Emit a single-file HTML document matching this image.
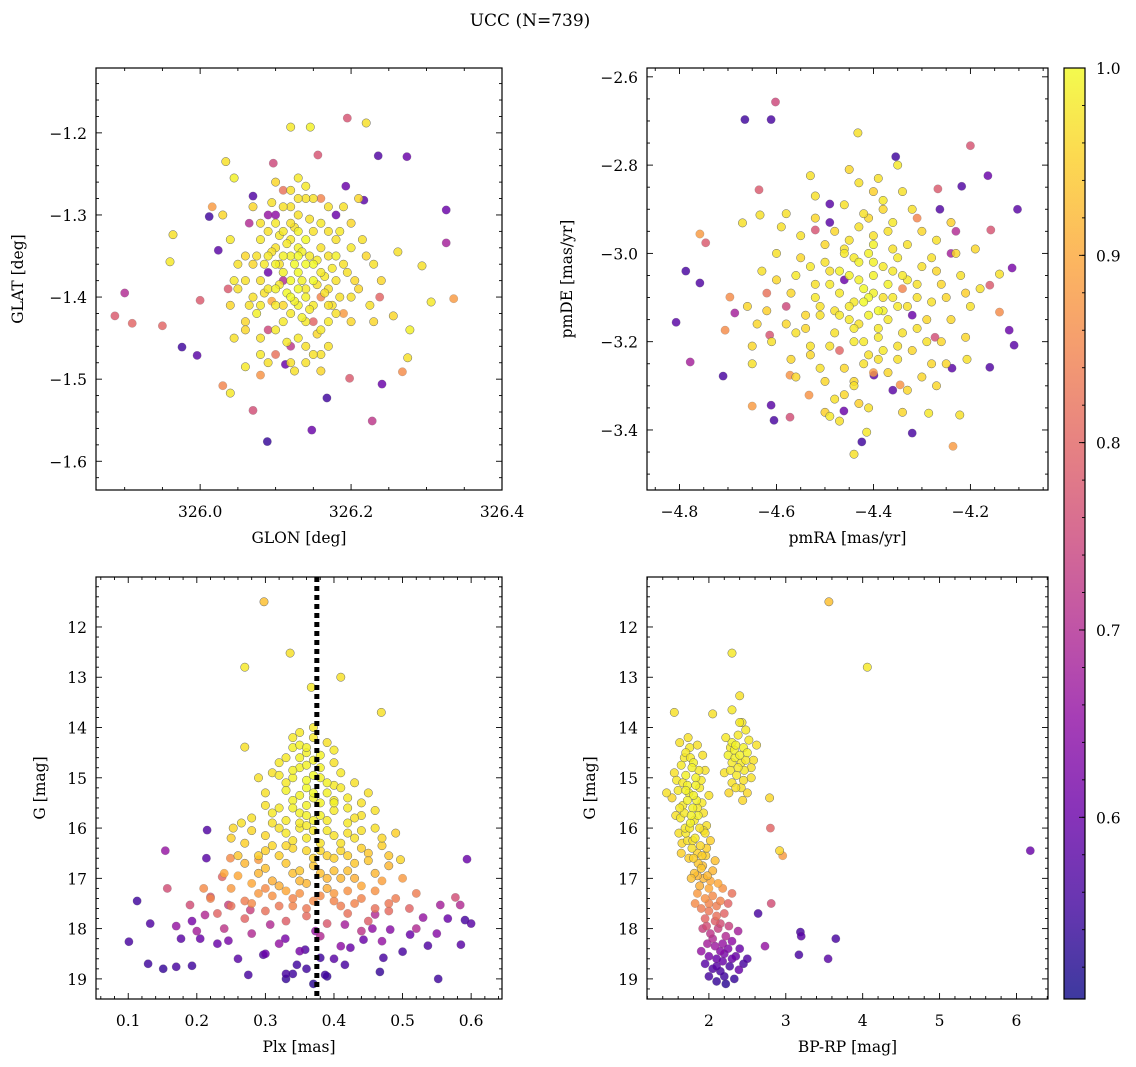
<!DOCTYPE html>
<html><head><meta charset="utf-8"><style>
html,body{margin:0;padding:0;background:#fff;}
svg{display:block;font-family:"DejaVu Serif","Liberation Serif",serif;}
</style></head><body>
<svg id="fig" width="1136" height="1067" viewBox="0 0 1136 1067" xmlns="http://www.w3.org/2000/svg">
<text x="530" y="26" font-size="17" text-anchor="middle">UCC (N=739)</text>
</svg>
<script>
// ---- data: [x, y, membership probability] ----
const galacticPoints = [
[325.887,-1.423,0.78],[325.90,-1.395,0.7],[325.91,-1.432,0.8],[325.95,-1.435,0.8],[325.96,-1.357,0.98],[325.976,-1.461,0.55],[325.964,-1.324,0.97],[325.996,-1.471,0.58],[326.0,-1.404,0.78],[326.012,-1.302,0.55],[326.016,-1.29,0.88],[326.034,-1.235,0.97],[326.045,-1.255,0.99],[326.03,-1.508,0.85],[326.04,-1.517,0.98],[326.07,-1.538,0.76],[326.089,-1.576,0.54],[326.12,-1.193,0.98],[326.146,-1.193,0.99],[326.156,-1.227,0.77],[326.195,-1.182,0.77],[326.22,-1.188,0.97],[326.236,-1.228,0.57],[326.274,-1.229,0.6],[326.148,-1.562,0.6],[326.168,-1.523,0.55],[326.198,-1.499,0.78],[326.228,-1.551,0.72],[326.241,-1.506,0.6],[326.268,-1.491,0.86],[326.275,-1.474,0.97],[326.326,-1.294,0.6],[326.336,-1.402,0.88],[326.326,-1.334,0.68],[326.306,-1.406,0.98],[326.294,-1.362,0.97],[326.278,-1.44,0.99],[326.256,-1.423,0.96],[326.238,-1.40,0.8],[326.217,-1.282,0.58],[326.193,-1.265,0.6],[326.262,-1.345,0.97],[326.045,-1.45,0.97],[326.06,-1.485,0.98],[326.08,-1.495,0.87],[326.113,-1.482,0.6],[326.024,-1.343,0.58],[326.037,-1.39,0.78],[326.07,-1.277,0.57],[326.097,-1.237,0.75],
[326.13,-1.37,1],[326.12,-1.35,0.99],[326.14,-1.39,0.98],[326.11,-1.38,0.7],[326.15,-1.36,1],[326.10,-1.34,0.97],[326.16,-1.40,0.85],[326.13,-1.32,0.99],[326.12,-1.42,0.98],[326.09,-1.37,0.6],[326.17,-1.35,0.97],[326.14,-1.33,1],[326.11,-1.41,0.96],[326.15,-1.43,0.8],[326.08,-1.33,0.98],[326.18,-1.38,0.97],[326.10,-1.30,0.65],[326.16,-1.31,0.98],[326.07,-1.40,0.97],[326.19,-1.42,0.88],[326.13,-1.45,0.98],[326.12,-1.29,0.97],[326.09,-1.44,0.75],[326.17,-1.46,0.97],[326.06,-1.35,0.96],[326.20,-1.34,0.98],[326.14,-1.48,0.97],[326.11,-1.27,0.82],[326.15,-1.28,0.97],[326.08,-1.47,0.98],[326.18,-1.30,0.6],[326.05,-1.39,0.97],[326.21,-1.39,0.96],[326.125,-1.36,1],[326.135,-1.38,0.99],[326.145,-1.35,0.98],[326.105,-1.36,0.97],[326.115,-1.395,1],[326.155,-1.385,0.97],[326.095,-1.405,0.9],[326.165,-1.375,0.98],[326.125,-1.315,0.97],[326.135,-1.425,0.99],[326.105,-1.325,0.98],[326.145,-1.305,0.97],[326.085,-1.36,0.98],[326.175,-1.41,0.97],[326.115,-1.455,0.98],[326.155,-1.445,0.96],[326.095,-1.285,0.97],[326.185,-1.32,0.98],[326.075,-1.42,0.99],[326.195,-1.37,0.97],[326.065,-1.31,0.7],[326.125,-1.49,0.97],[326.14,-1.265,0.98],[326.215,-1.33,0.97],[326.045,-1.38,0.98],[326.225,-1.41,0.97],[326.10,-1.47,0.82],[326.16,-1.47,0.97],[326.07,-1.29,0.96],[326.19,-1.29,0.97],[326.13,-1.255,0.98],[326.12,-1.40,1],[326.14,-1.36,1],[326.11,-1.35,0.99],[326.15,-1.41,0.98],[326.13,-1.34,0.99],[326.16,-1.37,0.98],[326.10,-1.39,0.99],[326.12,-1.31,0.97],[326.17,-1.43,0.98],[326.09,-1.32,0.97],[326.18,-1.35,0.99],[326.08,-1.41,0.98],[326.20,-1.40,0.97],[326.06,-1.43,0.96],[326.23,-1.36,0.97],[326.04,-1.33,0.98]
];
const galacticCore = [
[326.10,-1.36,0.99],[326.12,-1.33,0.98],[326.14,-1.40,0.99],[326.16,-1.34,0.97],[326.11,-1.43,0.98],[326.13,-1.30,0.97],[326.15,-1.38,1],[326.09,-1.35,0.98],[326.17,-1.39,0.97],[326.12,-1.46,0.72],[326.14,-1.28,0.97],[326.10,-1.41,0.98],[326.18,-1.33,0.97],[326.08,-1.38,0.97],[326.16,-1.44,0.98],[326.13,-1.35,1],[326.11,-1.32,0.98],[326.15,-1.32,0.97],[326.12,-1.38,1],[326.14,-1.43,0.98],[326.09,-1.30,0.66],[326.17,-1.41,0.97],[326.10,-1.44,0.98],[326.19,-1.36,0.97],[326.07,-1.36,0.96],[326.13,-1.41,0.99],[326.15,-1.47,0.97],[326.11,-1.29,0.97],[326.16,-1.28,0.85],[326.08,-1.45,0.97],[326.20,-1.43,0.96],[326.06,-1.38,0.97],[326.12,-1.27,0.97],[326.14,-1.46,0.97],[326.10,-1.31,0.98],[326.18,-1.42,0.97],[326.09,-1.39,0.98],[326.17,-1.32,0.97],[326.13,-1.39,1],[326.11,-1.37,0.99],[326.155,-1.355,0.98],[326.105,-1.385,0.98],[326.135,-1.345,0.99],[326.125,-1.405,0.99],[326.145,-1.415,0.98],[326.115,-1.335,0.98],[326.165,-1.395,0.97],[326.095,-1.345,0.97],[326.175,-1.365,0.98],[326.085,-1.395,0.97],[326.185,-1.40,0.97],[326.075,-1.35,0.97],[326.205,-1.38,0.96],[326.065,-1.41,0.97],[326.22,-1.35,0.96],[326.05,-1.36,0.97],[326.12,-1.48,0.97],[326.16,-1.49,0.96],[326.09,-1.48,0.97],[326.13,-1.28,0.97],[326.17,-1.29,0.97],[326.08,-1.31,0.97],[326.20,-1.31,0.96],[326.06,-1.44,0.96],[326.23,-1.43,0.96],[326.04,-1.41,0.96],[326.24,-1.38,0.96],[326.03,-1.30,0.96],[326.21,-1.28,0.96],[326.10,-1.26,0.96]
];
const propermotionPoints = [
[-4.602,-2.657,0.75],[-4.665,-2.697,0.55],[-4.611,-2.697,0.56],[-4.432,-2.727,0.97],[-4.354,-2.781,0.55],[-4.35,-2.80,0.98],[-4.2,-2.756,0.77],[-4.164,-2.824,0.6],[-4.636,-2.856,0.78],[-4.53,-2.824,0.97],[-4.758,-2.956,0.88],[-4.746,-2.976,0.78],[-4.787,-3.04,0.56],[-4.758,-3.067,0.57],[-4.807,-3.156,0.58],[-4.778,-3.246,0.68],[-4.71,-3.278,0.56],[-4.65,-3.25,0.97],[-4.706,-3.174,0.86],[-4.65,-3.346,0.88],[-4.611,-3.344,0.58],[-4.605,-3.378,0.56],[-4.572,-3.371,0.76],[-4.533,-3.321,0.87],[-4.49,-3.369,0.98],[-4.461,-3.357,0.6],[-4.424,-3.427,0.55],[-4.44,-3.455,0.97],[-4.414,-3.405,0.98],[-4.32,-3.407,0.56],[-4.286,-3.362,0.98],[-4.236,-3.437,0.88],[-4.222,-3.366,0.97],[-4.16,-3.258,0.57],[-4.11,-3.208,0.58],[-4.12,-3.174,0.6],[-4.103,-2.9,0.58],[-4.114,-3.033,0.62],[-4.14,-3.133,0.86],[-4.16,-3.072,0.78],[-4.14,-3.047,0.97],[-4.158,-2.947,0.77],[-4.24,-3.0,0.68],[-4.218,-2.848,0.57],[-4.267,-2.854,0.78],[-4.238,-3.26,0.58],[-4.207,-3.24,0.97],[-4.273,-3.19,0.76],[-4.263,-2.9,0.57],[-4.52,-2.947,0.77],[-4.49,-2.888,0.58],[-4.634,-2.913,0.97],[-4.686,-3.135,0.68],[-4.696,-3.099,0.86],[-4.67,-2.931,0.97],[-4.614,-3.185,0.77],[-4.572,-3.276,0.87],[-4.399,-3.276,0.58],[-4.345,-3.298,0.87],
[-4.42,-3.08,1],[-4.40,-3.05,0.99],[-4.44,-3.11,0.98],[-4.38,-3.10,0.97],[-4.46,-3.06,0.6],[-4.36,-3.04,0.98],[-4.48,-3.13,0.97],[-4.41,-3.00,0.99],[-4.43,-3.16,0.97],[-4.34,-3.08,0.85],[-4.50,-3.02,0.97],[-4.39,-3.19,0.98],[-4.45,-2.97,0.97],[-4.32,-3.14,0.6],[-4.52,-3.10,0.98],[-4.37,-2.95,0.97],[-4.47,-3.22,0.8],[-4.30,-3.03,0.97],[-4.54,-3.17,0.96],[-4.35,-3.24,0.97],[-4.49,-2.93,0.58],[-4.28,-3.11,0.97],[-4.56,-3.05,0.98],[-4.42,-2.91,0.97],[-4.40,-3.27,0.88],[-4.33,-2.98,0.97],[-4.51,-3.26,0.97],[-4.26,-3.07,0.96],[-4.58,-3.12,0.75],[-4.44,-3.30,0.97],[-4.38,-2.88,0.98],[-4.29,-3.20,0.97],[-4.55,-2.96,0.97],[-4.31,-2.92,0.85],[-4.53,-3.21,0.97],[-4.24,-3.15,0.96],[-4.60,-3.00,0.97],[-4.46,-2.89,0.97],[-4.36,-3.31,0.58],[-4.27,-2.97,0.97],[-4.57,-3.24,0.96],[-4.22,-3.05,0.97],[-4.62,-3.09,0.82],[-4.48,-3.33,0.97],[-4.34,-2.86,0.97],[-4.25,-3.25,0.96],[-4.59,-2.94,0.97],[-4.20,-3.12,0.97],[-4.64,-3.16,0.96],[-4.43,-2.84,0.97],[-4.41,-3.35,0.97],[-4.30,-3.28,0.96],[-4.52,-2.87,0.97],[-4.23,-2.95,0.7],[-4.61,-3.20,0.97],[-4.47,-3.04,0.99],[-4.39,-3.13,1],[-4.43,-3.02,0.99],[-4.37,-3.07,0.99],[-4.45,-3.15,0.98],[-4.41,-3.10,1],[-4.35,-3.12,0.98],[-4.49,-3.07,0.98],[-4.40,-2.98,0.99],[-4.44,-3.20,0.98],[-4.33,-3.06,0.98],[-4.51,-3.14,0.97],[-4.38,-3.22,0.98],[-4.46,-3.00,0.98],[-4.31,-3.17,0.97],[-4.53,-3.03,0.98],[-4.42,-3.25,0.97],[-4.36,-2.93,0.98],[-4.28,-3.01,0.97],[-4.56,-3.18,0.97],[-4.21,-3.19,0.96],[-4.63,-3.04,0.97],[-4.50,-3.29,0.96],[-4.32,-2.90,0.97],[-4.45,-2.81,0.96],[-4.18,-3.08,0.97],[-4.66,-3.12,0.96],[-4.39,-2.83,0.97],[-4.27,-3.30,0.96],[-4.58,-2.91,0.97],[-4.19,-2.99,0.96],[-4.65,-3.21,0.96],[-4.47,-3.38,0.97],[-4.34,-3.36,0.96]
];
const propermotionCore = [
[-4.40,-3.09,0.99],[-4.43,-3.06,0.99],[-4.45,-3.12,0.98],[-4.38,-3.03,0.98],[-4.41,-3.14,0.99],[-4.47,-3.09,0.98],[-4.36,-3.10,0.98],[-4.44,-3.01,0.98],[-4.39,-3.17,0.98],[-4.49,-3.04,0.97],[-4.34,-3.05,0.98],[-4.42,-3.20,0.98],[-4.46,-2.99,0.97],[-4.37,-3.15,0.98],[-4.51,-3.12,0.97],[-4.33,-3.12,0.97],[-4.40,-2.96,0.97],[-4.48,-3.18,0.97],[-4.35,-3.21,0.97],[-4.52,-3.07,0.97],[-4.31,-3.07,0.97],[-4.43,-2.94,0.97],[-4.39,-3.24,0.97],[-4.54,-3.14,0.96],[-4.29,-3.15,0.96],[-4.46,-3.26,0.96],[-4.36,-2.99,0.97],[-4.50,-2.98,0.96],[-4.32,-3.22,0.96],[-4.55,-3.01,0.96],[-4.27,-3.04,0.96],[-4.44,-3.29,0.96],[-4.41,-2.92,0.96],[-4.57,-3.09,0.96],[-4.25,-3.10,0.96],[-4.48,-2.95,0.96],[-4.30,-2.95,0.96],[-4.53,-3.23,0.96],[-4.37,-3.27,0.96],[-4.45,-3.05,0.99],[-4.38,-3.13,0.99],[-4.42,-3.11,1],[-4.40,-3.02,0.99],[-4.44,-3.17,0.98],[-4.34,-3.18,0.97],[-4.47,-3.14,0.98],[-4.35,-3.01,0.98],[-4.49,-3.21,0.97],[-4.41,-3.23,0.97],[-4.31,-3.10,0.97],[-4.58,-3.16,0.96],[-4.26,-3.20,0.96],[-4.60,-3.06,0.96],[-4.23,-3.00,0.96],[-4.46,-3.32,0.96],[-4.38,-2.90,0.96],[-4.52,-2.92,0.96],[-4.28,-3.25,0.96],[-4.56,-3.28,0.96],[-4.33,-3.31,0.96],[-4.62,-3.13,0.95],[-4.21,-3.09,0.95],[-4.50,-3.36,0.95],[-4.40,-2.86,0.95],[-4.43,-3.34,0.95],[-4.24,-2.93,0.95]
];
const parallaxPoints = [
[0.298,11.5,0.93],[0.27,12.8,0.98],[0.336,12.52,0.97],[0.367,13.2,0.98],[0.41,13.0,0.97],[0.469,13.7,0.97],
[0.101,18.26,0.56],[0.113,17.45,0.55],[0.132,17.9,0.57],[0.129,18.7,0.55],[0.151,18.8,0.54],[0.17,18.76,0.56],[0.193,18.74,0.55],[0.154,16.45,0.66],[0.177,18.2,0.58],[0.193,17.85,0.62],[0.157,17.2,0.76],[0.214,16.6,0.58],[0.215,16.04,0.57],[0.22,17.37,0.78],[0.237,16.97,0.8],[0.249,16.6,0.86],[0.253,16.0,0.96],[0.265,15.9,0.97],[0.27,14.39,0.97],[0.29,16.63,0.88],[0.497,16.63,0.96],[0.577,17.38,0.76],[0.594,16.62,0.6],[0.591,17.83,0.56],[0.585,18.32,0.58],[0.552,19.0,0.55],[0.566,17.8,0.6],[0.537,18.34,0.57],[0.5,18.46,0.56],[0.472,18.58,0.56],[0.467,18.86,0.54],[0.443,18.22,0.6],[0.416,18.72,0.56],[0.38,18.58,0.55],[0.346,18.72,0.55],[0.33,18.9,0.56],[0.297,18.52,0.57],[0.275,18.92,0.56],[0.26,18.6,0.58],[0.246,18.24,0.62],[0.23,18.3,0.6],[0.205,18.2,0.6],[0.329,18.2,0.62],[0.358,18.42,0.57],[0.387,18.92,0.55],[0.424,18.38,0.6],[0.456,18.0,0.65],[0.482,18.02,0.64],[0.511,18.12,0.6],[0.53,17.78,0.66],[0.555,17.53,0.68],[0.584,17.53,0.7],[0.6,17.9,0.58],[0.46,17.72,0.7],[0.416,17.92,0.68],[0.373,18.05,0.66],[0.307,17.92,0.7],[0.278,17.63,0.74],[0.246,17.53,0.74],[0.212,17.73,0.7],[0.19,17.53,0.76],
[0.35,14.1,0.98],[0.37,14.2,0.98],[0.34,14.4,0.99],[0.39,14.3,0.97],[0.36,14.5,0.99],[0.33,14.6,0.98],[0.38,14.55,0.99],[0.40,14.7,0.97],[0.31,14.9,0.97],[0.35,14.8,0.99],[0.37,14.95,1],[0.41,14.9,0.98],[0.43,15.1,0.97],[0.33,15.1,0.98],[0.30,15.3,0.97],[0.36,15.2,1],[0.39,15.3,0.99],[0.34,15.45,0.99],[0.42,15.4,0.98],[0.45,15.3,0.97],[0.29,15.0,0.97],[0.38,15.0,0.99],[0.32,15.6,0.98],[0.28,15.8,0.97],[0.31,15.9,0.97],[0.35,15.7,0.99],[0.37,15.85,0.99],[0.40,15.65,0.98],[0.42,15.9,0.98],[0.44,15.75,0.97],[0.46,16.0,0.97],[0.33,16.1,0.98],[0.36,16.2,0.98],[0.39,16.05,0.98],[0.41,16.3,0.97],[0.43,16.2,0.97],[0.47,16.35,0.95],[0.27,16.3,0.95],[0.30,16.15,0.96],[0.34,16.4,0.96],[0.38,16.45,0.96],[0.45,16.5,0.94],[0.32,16.55,0.95],[0.25,16.2,0.95],[0.49,16.1,0.95],[0.40,15.5,0.99],[0.36,15.55,0.99],[0.27,16.7,0.92],[0.30,16.8,0.93],[0.34,16.9,0.93],[0.37,16.75,0.94],[0.40,16.85,0.93],[0.43,16.7,0.94],[0.46,16.9,0.92],[0.31,17.05,0.91],[0.36,17.1,0.92],[0.41,17.0,0.92],[0.44,17.15,0.9],[0.28,17.1,0.9],[0.39,17.2,0.91],[0.33,17.25,0.9],[0.48,16.75,0.92],[0.24,16.9,0.9],[0.35,14.35,0.99],[0.36,14.75,0.99],[0.34,15.0,0.99],[0.37,15.4,0.99],[0.38,15.75,0.99],[0.35,16.0,0.98],[0.37,16.6,0.95],[0.32,14.7,0.98],[0.40,15.15,0.98],[0.39,16.55,0.95],[0.31,16.35,0.96],[0.42,16.55,0.95],[0.35,16.85,0.94],[0.33,15.85,0.98],[0.44,16.05,0.97],[0.29,16.55,0.95],
[0.22,17.4,0.85],[0.25,17.2,0.88],[0.28,17.5,0.86],[0.31,17.35,0.87],[0.34,17.55,0.85],[0.37,17.45,0.86],[0.40,17.3,0.88],[0.43,17.5,0.85],[0.46,17.25,0.87],[0.49,17.4,0.84],[0.51,17.6,0.8],[0.23,17.7,0.8],[0.27,17.8,0.8],[0.30,17.65,0.82],[0.33,17.85,0.79],[0.36,17.75,0.81],[0.39,17.9,0.78],[0.42,17.7,0.82],[0.45,17.85,0.79],[0.48,17.65,0.81],[0.26,16.95,0.9],[0.47,17.05,0.89],[0.50,17.0,0.88],[0.21,17.2,0.86],[0.52,17.3,0.84],[0.29,17.3,0.88],[0.41,17.55,0.84],[0.35,17.3,0.87],
[0.24,18.0,0.72],[0.28,18.1,0.7],[0.32,18.3,0.66],[0.38,18.15,0.7],[0.41,18.35,0.65],[0.44,18.05,0.72],[0.47,18.25,0.66],[0.20,18.05,0.68],[0.52,18.0,0.7],[0.35,18.45,0.62],[0.30,18.5,0.6],[0.40,18.6,0.58],[0.36,18.8,0.55],[0.33,19.0,0.54],[0.37,19.1,0.53],[0.34,18.9,0.55],[0.39,18.95,0.54],[0.55,18.1,0.64],[0.17,17.95,0.66]
];
const parallaxCore = [
[0.36,14.4,0.99],[0.35,14.6,0.99],[0.37,14.65,0.99],[0.34,14.85,0.99],[0.38,14.8,0.99],[0.36,15.05,1],[0.39,15.1,0.99],[0.33,15.25,0.99],[0.37,15.3,1],[0.41,15.2,0.98],[0.35,15.35,0.99],[0.38,15.5,0.99],[0.34,15.6,0.99],[0.40,15.45,0.98],[0.42,15.6,0.98],[0.36,15.75,0.99],[0.31,15.7,0.98],[0.39,15.85,0.98],[0.43,15.8,0.97],[0.35,15.9,0.98],[0.32,16.0,0.97],[0.37,16.05,0.98],[0.40,16.15,0.97],[0.34,16.25,0.97],[0.42,16.1,0.97],[0.38,16.3,0.97],[0.44,16.4,0.95],[0.30,16.45,0.95],[0.36,16.45,0.96],[0.40,16.6,0.95],[0.33,16.7,0.94],[0.38,16.9,0.93],[0.42,16.85,0.93],[0.29,16.9,0.92],[0.45,16.65,0.94],[0.35,17.05,0.92],[0.39,17.0,0.92],[0.32,17.15,0.91],[0.43,17.0,0.91],[0.37,14.0,0.98],[0.34,14.2,0.98],[0.40,14.45,0.98],[0.32,14.95,0.98],[0.44,15.5,0.97],[0.30,15.55,0.97],[0.46,15.65,0.97],[0.28,16.05,0.96],[0.47,16.2,0.96],[0.26,16.55,0.94],[0.48,16.55,0.94],[0.36,15.95,0.98],[0.41,16.45,0.96],[0.33,16.35,0.96],
[0.30,17.2,0.86],[0.34,17.4,0.85],[0.38,17.35,0.86],[0.42,17.25,0.87],[0.44,17.4,0.85],[0.27,17.45,0.84],[0.32,17.55,0.83],[0.36,17.6,0.83],[0.40,17.45,0.85],[0.48,17.5,0.83],[0.25,17.55,0.82],[0.46,17.6,0.82]
];
const colorMagPoints = [
[3.56,11.5,0.93],[4.06,12.8,0.98],[2.3,12.52,0.98],[2.4,13.37,0.97],[2.3,13.65,0.98],[2.05,13.73,0.97],[1.55,13.7,0.97],[2.43,13.9,0.98],[6.18,16.45,0.6],[2.79,15.4,0.96],[2.8,16.0,0.8],[2.92,16.45,0.96],[2.96,16.55,0.88],[2.81,17.5,0.76],[2.64,17.7,0.56],[3.19,18.07,0.56],[3.2,18.15,0.58],[3.17,18.52,0.56],[3.55,18.6,0.58],[3.65,18.2,0.56],[2.73,18.35,0.66],[2.39,18.82,0.6],
[1.62,14.3,0.97],[1.75,14.4,0.98],[1.85,14.35,0.97],[1.68,14.6,0.98],[1.80,14.7,0.99],[1.92,14.55,0.97],[1.55,14.9,0.97],[1.70,14.95,0.99],[1.83,15.0,0.99],[1.95,14.85,0.97],[1.60,15.25,0.98],[1.74,15.3,0.99],[1.88,15.2,0.98],[2.0,15.35,0.97],[1.52,15.4,0.96],[1.66,15.55,0.98],[1.79,15.6,0.99],[1.91,15.5,0.98],[1.63,15.8,0.98],[1.76,15.9,0.99],[1.86,15.75,0.99],[1.97,15.95,0.97],[1.70,16.1,0.98],[1.82,16.2,0.98],[1.93,16.05,0.97],[1.65,16.3,0.96],[1.78,16.4,0.97],[1.89,16.35,0.96],[2.02,16.25,0.95],[1.74,16.6,0.95],[1.86,16.7,0.94],[1.96,16.55,0.95],[2.08,16.65,0.93],[1.81,16.9,0.93],[1.93,17.0,0.92],[2.05,16.85,0.92],[1.88,17.15,0.91],[2.0,17.2,0.9],[2.12,17.1,0.9],[1.45,15.3,0.97],[1.72,15.15,0.99],[1.84,15.45,0.99],[1.69,16.0,0.98],[1.90,16.8,0.94],[1.77,17.0,0.93],[1.58,15.05,0.98],[1.95,16.1,0.97],[1.73,14.2,0.97],[1.87,14.85,0.98],[1.64,16.5,0.95],
[1.85,17.3,0.88],[1.95,17.4,0.87],[2.05,17.35,0.86],[2.15,17.45,0.85],[1.90,17.6,0.84],[2.00,17.65,0.83],[2.10,17.55,0.84],[2.20,17.7,0.8],[1.95,17.8,0.8],[2.08,17.85,0.79],[2.25,17.5,0.8],[1.82,17.5,0.86],[2.3,17.3,0.82],[2.18,17.2,0.87],
[1.92,18.0,0.74],[2.02,18.1,0.72],[2.12,18.0,0.74],[2.22,18.15,0.7],[1.98,18.3,0.68],[2.08,18.35,0.67],[2.18,18.3,0.66],[2.3,18.25,0.65],[2.0,18.55,0.62],[2.1,18.6,0.6],[2.2,18.5,0.62],[2.35,18.55,0.6],[2.05,18.8,0.57],[2.15,18.85,0.56],[2.27,18.75,0.56],[2.1,19.05,0.54],[2.22,19.1,0.53],[1.95,18.7,0.58],[2.4,18.4,0.6],[2.45,18.7,0.56],[2.33,19.0,0.54],[1.9,18.45,0.66],[2.26,17.95,0.74],[2.38,18.05,0.68],[2.5,18.6,0.57],
[2.22,14.2,0.98],[2.3,14.3,0.99],[2.38,14.15,0.98],[2.45,14.4,0.99],[2.52,14.25,0.98],[2.25,14.55,0.99],[2.34,14.6,0.99],[2.42,14.7,0.98],[2.5,14.5,0.99],[2.58,14.65,0.97],[2.28,14.85,0.98],[2.36,14.95,0.98],[2.46,14.85,0.98],[2.55,15.0,0.97],[2.3,15.1,0.97],[2.42,15.2,0.97],[2.5,15.3,0.96],[2.2,14.9,0.97],[2.4,13.9,0.98],[2.48,14.05,0.98],[2.62,14.35,0.97],[2.33,14.45,0.99],[2.44,15.45,0.96],[2.26,15.3,0.96]
];
const colorMagCore = [
[1.70,14.5,0.98],[1.78,14.8,0.99],[1.66,15.1,0.98],[1.80,15.35,0.99],[1.72,15.45,0.99],[1.85,15.6,0.98],[1.68,15.7,0.98],[1.81,15.85,0.98],[1.75,16.0,0.98],[1.88,16.0,0.97],[1.72,16.25,0.97],[1.85,16.5,0.95],[1.80,16.6,0.95],[1.92,16.75,0.93],[1.85,16.95,0.92],[1.98,16.95,0.92],[1.62,15.6,0.98],[1.57,15.75,0.97],[1.93,15.7,0.97],[1.76,14.6,0.98],[1.64,14.75,0.98],[1.90,15.05,0.98],[1.79,16.25,0.97],[1.97,16.4,0.95],[2.02,17.05,0.9],[1.70,15.25,0.99],[1.83,15.15,0.99],[1.77,15.75,0.99],[1.61,16.1,0.97],[1.91,16.55,0.95],
[2.35,14.35,0.99],[2.4,14.55,0.99],[2.3,14.7,0.98],[2.48,14.65,0.98],[2.38,14.8,0.98],[2.45,15.05,0.97],[2.35,15.2,0.97],[2.28,14.4,0.98],[2.55,14.8,0.97],
[2.0,17.5,0.85],[2.1,17.75,0.82],[1.97,17.95,0.76],[2.15,17.9,0.76],[2.05,18.2,0.7],[2.15,18.45,0.64],[2.25,18.4,0.63],[2.1,18.75,0.58],[2.2,18.95,0.55],[2.0,18.95,0.56],[2.3,18.6,0.6],[2.18,18.65,0.6]
];
const plxMedian = [0.375];
const probRange = [0.503, 1.0];
const colorbarTicks = [0.6, 0.7, 0.8, 0.9, 1.0];

// ---- helpers ----
const NS = "http://www.w3.org/2000/svg";
const svg = document.getElementById('fig');
function mk(tag, attrs, parent){ const e=document.createElementNS(NS,tag); for(const k in attrs) e.setAttribute(k,attrs[k]); (parent||svg).appendChild(e); return e; }
const plasma = [[13,8,135],[65,4,157],[106,0,168],[143,13,164],[177,42,144],[204,71,120],[225,100,98],[242,132,75],[252,166,54],[252,206,37],[240,249,33]];
function cmap(p){
  let t=(p-probRange[0])/(probRange[1]-probRange[0]); t=Math.max(0,Math.min(1,t));
  const f=t*10, i=Math.min(9,Math.floor(f)), r=f-i, a=plasma[i], b=plasma[i+1];
  return `rgb(${Math.round(a[0]+(b[0]-a[0])*r)},${Math.round(a[1]+(b[1]-a[1])*r)},${Math.round(a[2]+(b[2]-a[2])*r)})`;
}
const fmt = (v,d)=> (v<0?'\u2212':'')+Math.abs(v).toFixed(d);

function panel(cfg){
  const g = mk('g',{});
  
  
  const {L,R,T,B,xd,yd} = cfg;
  const sx = v => L + (v-xd[0])/(xd[1]-xd[0])*(R-L);
  const sy = v => T + (v-yd[0])/(yd[1]-yd[0])*(B-T);
  const clip = mk('clipPath',{id:cfg.name+'-clip'},g);
  mk('rect',{x:L,y:T,width:R-L,height:B-T},clip);
  const pts = mk('g',{'clip-path':`url(#${cfg.name}-clip)`},g);
  
  
  const sorted = cfg.data.slice().sort((a,b)=>a[2]-b[2]);
  for(const d of sorted){
    const c = mk('circle',{cx:sx(d[0]).toFixed(1),cy:sy(d[1]).toFixed(1),r:4.2,fill:cmap(d[2]),'fill-opacity':0.82,stroke:'#666','stroke-width':d[2]>0.9?0.5:0.2},pts);
    
    
  }
  if(cfg.after) cfg.after(g,sx,sy);
  const frame = mk('rect',{x:L,y:T,width:R-L,height:B-T,fill:'none',stroke:'#000','stroke-width':1.2},g);
  
  
  const lo=Math.min(xd[0],xd[1]), hi=Math.max(xd[0],xd[1]);
  for(let k=Math.ceil(lo/cfg.xminor-1e-6); k*cfg.xminor<=hi+1e-9; k++){
    const v=k*cfg.xminor, x=sx(v); const major=Math.abs(v/cfg.xmajor-Math.round(v/cfg.xmajor))<1e-6;
    const len=major?6:3;
    mk('line',{x1:x,x2:x,y1:B,y2:B-len,stroke:'#000','stroke-width':0.9},g);
    mk('line',{x1:x,x2:x,y1:T,y2:T+len,stroke:'#000','stroke-width':0.9},g);
    if(major){
      const t=mk('text',{x:x,y:B+27,'font-size':15.5,'text-anchor':'middle'},g); t.textContent=fmt(v,cfg.xdec);
      
      
    }
  }
  const ylo=Math.min(yd[0],yd[1]), yhi=Math.max(yd[0],yd[1]);
  for(let k=Math.ceil(ylo/cfg.yminor-1e-6); k*cfg.yminor<=yhi+1e-9; k++){
    const v=k*cfg.yminor, y=sy(v); const major=Math.abs(v/cfg.ymajor-Math.round(v/cfg.ymajor))<1e-6;
    const len=major?6:3;
    mk('line',{x1:L,x2:L+len,y1:y,y2:y,stroke:'#000','stroke-width':0.9},g);
    mk('line',{x1:R,x2:R-len,y1:y,y2:y,stroke:'#000','stroke-width':0.9},g);
    if(major){
      const t=mk('text',{x:L-9,y:y+6,'font-size':15.5,'text-anchor':'end'},g); t.textContent=fmt(v,cfg.ydec);
      
      
    }
  }
  const xl=mk('text',{x:(L+R)/2,y:B+53,'font-size':15.5,'text-anchor':'middle'},g); xl.textContent=cfg.xlabel;
  
  
  const yl=mk('text',{x:cfg.ylx,y:(T+B)/2,'font-size':15.5,'text-anchor':'middle',transform:`rotate(-90 ${cfg.ylx} ${(T+B)/2})`},g); yl.textContent=cfg.ylabel;
  
  
}

panel({name:'glon-glat-panel',data:galacticPoints.concat(galacticCore),L:96,R:502,T:68,B:490,xd:[325.862,326.400],yd:[-1.121,-1.635],xmajor:0.2,xminor:0.05,xdec:1,ymajor:0.1,yminor:0.02,ydec:1,xlabel:'GLON [deg]',ylabel:'GLAT [deg]',ylx:23});
panel({name:'pm-panel',data:propermotionPoints.concat(propermotionCore),L:647,R:1048,T:68,B:490,xd:[-4.867,-4.040],yd:[-2.580,-3.536],xmajor:0.2,xminor:0.05,xdec:1,ymajor:0.2,yminor:0.05,ydec:1,xlabel:'pmRA [mas/yr]',ylabel:'pmDE [mas/yr]',ylx:572});
panel({name:'plx-g-panel',data:parallaxPoints.concat(parallaxCore),L:96,R:502,T:577,B:999,xd:[0.053,0.645],yd:[11.006,19.4],xmajor:0.1,xminor:0.02,xdec:1,ymajor:1,yminor:0.2,ydec:0,xlabel:'Plx [mas]',ylabel:'G [mag]',ylx:45,
  after:(g,sx,sy)=>{ const l=mk('line',{x1:sx(plxMedian[0]),x2:sx(plxMedian[0]),y1:577,y2:999,stroke:'#000','stroke-width':5,'stroke-dasharray':'5,4'},g);
    
     }});
panel({name:'cmd-panel',data:colorMagPoints.concat(colorMagCore),L:647,R:1048,T:577,B:999,xd:[1.195,6.41],yd:[11.006,19.4],xmajor:1,xminor:0.2,xdec:0,ymajor:1,yminor:0.2,ydec:0,xlabel:'BP-RP [mag]',ylabel:'G [mag]',ylx:595});

(function(){
  const L=1064,R=1085,T=68,B=999;
  const g=mk('g',{});
  
  
  const defs=mk('defs',{},g);
  const grad=mk('linearGradient',{id:'cbg',x1:0,y1:1,x2:0,y2:0},defs);
  for(let i=0;i<=10;i++) mk('stop',{offset:i/10,'stop-color':`rgb(${plasma[i].join(',')})`},grad);
  mk('rect',{x:L,y:T,width:R-L,height:B-T,fill:'url(#cbg)','fill-opacity':0.8},g);
  mk('rect',{x:L,y:T,width:R-L,height:B-T,fill:'none',stroke:'#000','stroke-width':1.2},g);
  const sy=v=>B-(v-probRange[0])/(probRange[1]-probRange[0])*(B-T);
  for(let k=Math.ceil(probRange[0]/0.02);k*0.02<=probRange[1]+1e-9;k++){
    const y=sy(k*0.02); mk('line',{x1:R,x2:R-3,y1:y,y2:y,stroke:'#000','stroke-width':0.9},g);
  }
  for(const v of colorbarTicks){
    const y=sy(v); mk('line',{x1:R,x2:R-6,y1:y,y2:y,stroke:'#000','stroke-width':0.9},g);
    const t=mk('text',{x:R+11,y:y+6,'font-size':15.5},g); t.textContent=v.toFixed(1);
    
    
  }
})();
</script>
</body></html>
